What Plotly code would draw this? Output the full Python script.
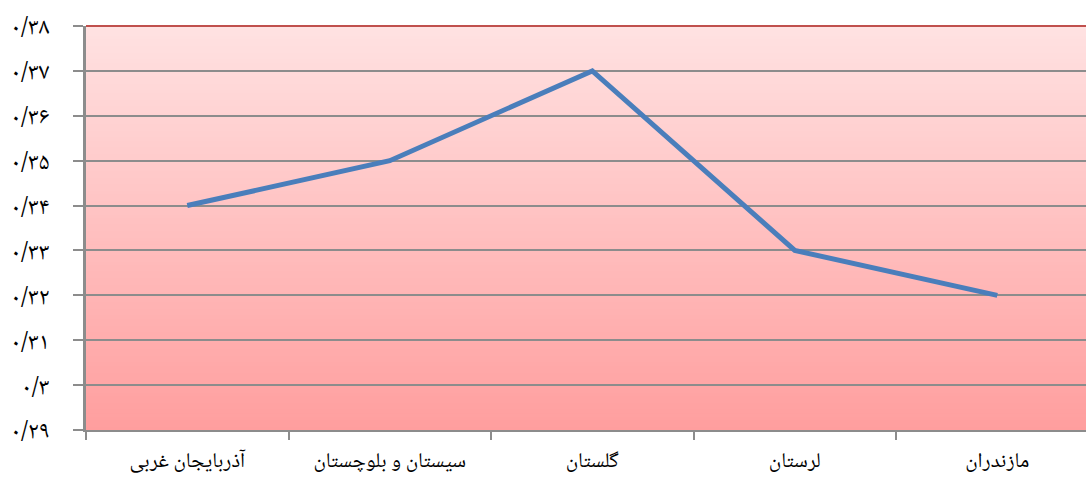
import plotly.graph_objects as go

categories = ["آذربایجان غربی", "سیستان و بلوچستان", "گلستان", "لرستان", "مازندران"]
values = [0.34, 0.35, 0.37, 0.33, 0.32]
y_tickvals = [0.29, 0.30, 0.31, 0.32, 0.33, 0.34, 0.35, 0.36, 0.37, 0.38]
y_ticktext = ["۰/۲۹", "۰/۳", "۰/۳۱", "۰/۳۲", "۰/۳۳", "۰/۳۴", "۰/۳۵", "۰/۳۶", "۰/۳۷", "۰/۳۸"]

fig = go.Figure()
fig.add_trace(go.Scatter(
    x=list(range(len(categories))), y=values, mode="lines",
    line=dict(color="#4A7EBB", width=5), hoverinfo="skip", showlegend=False))

# vertical gradient background made from overlapping thin strips
top = (255, 226, 226)
bot = (255, 158, 158)
n = 120
shapes = []
for i in range(n):
    t = (i + 0.5) / n
    c = tuple(round(bot[k] + (top[k] - bot[k]) * t) for k in range(3))
    shapes.append(dict(type="rect", xref="x domain", yref="y domain",
                       x0=0, x1=1, y0=i / n, y1=min(1, (i + 2) / n),
                       fillcolor="rgb(%d,%d,%d)" % c, line=dict(width=0), layer="below"))
# top red border
shapes.append(dict(type="line", xref="x domain", yref="y domain", x0=0, x1=1, y0=1, y1=1,
                   line=dict(color="#C0504D", width=2), layer="above"))
fig.update_layout(shapes=shapes)

font = "Noto Naskh Arabic, Noto Sans Arabic, DejaVu Sans, sans-serif"
fig.update_layout(
    width=1086, height=479,
    margin=dict(l=86, r=0, t=26, b=49, pad=0),
    paper_bgcolor="white", plot_bgcolor="rgba(0,0,0,0)",
    xaxis=dict(range=[-0.5, 4.438], tickvals=list(range(len(categories))), ticktext=categories,
               ticks="", showgrid=False, zeroline=False,
               showline=True, linecolor="#8C8C8C", linewidth=2,
               tickfont=dict(family=font, size=21, color="black"),
               minor=dict(tick0=-0.5, dtick=1, ticks="outside", ticklen=8, tickcolor="#8C8C8C", tickwidth=1.5, showgrid=False),
               ticklabelstandoff=10, automargin=False),
    yaxis=dict(range=[0.29, 0.38], tickvals=y_tickvals, ticktext=y_ticktext,
               ticks="outside", ticklen=10, tickcolor="#8C8C8C", tickwidth=1.5,
               showgrid=True, gridcolor="#8C8C8C", gridwidth=1.5, zeroline=False,
               showline=True, linecolor="#8C8C8C", linewidth=2.5,
               tickfont=dict(family=font, size=24, color="black"),
               ticklabelstandoff=19, automargin=False),
)
fig.write_html("out.html", config={"displayModeBar": False},
               post_script="document.body.style.margin='0';document.body.style.overflow='hidden';")
